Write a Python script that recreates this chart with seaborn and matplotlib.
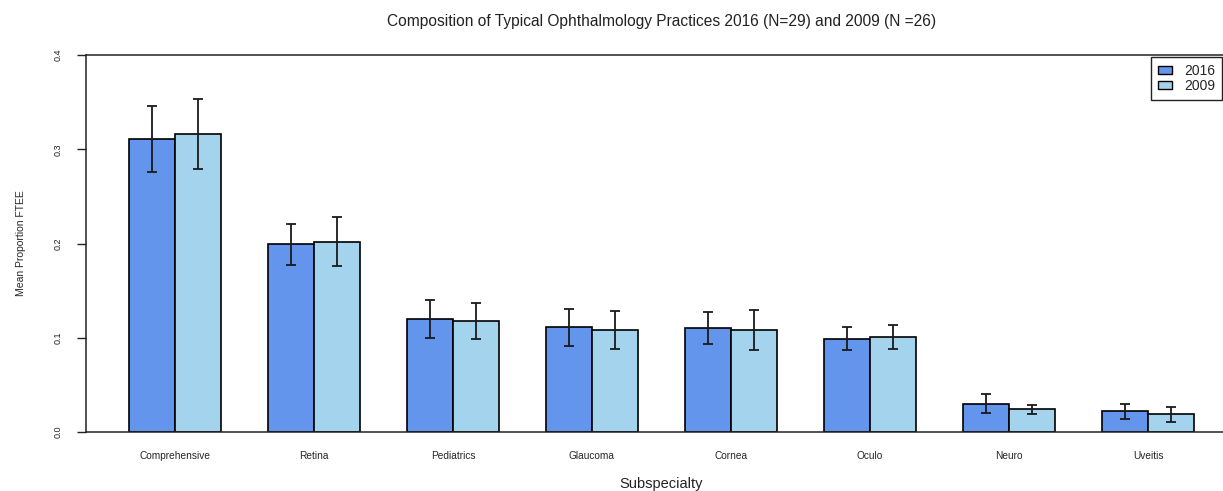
import matplotlib
matplotlib.use("Agg")
import matplotlib.pyplot as plt
import seaborn as sns
import pandas as pd

# Mean proportion of FTEE by subspecialty, with standard errors
subspecialties = ["Comprehensive", "Retina", "Pediatrics", "Glaucoma",
                  "Cornea", "Oculo", "Neuro", "Uveitis"]
years = ["2016", "2009"]
mean_2016 = [0.311, 0.199, 0.120, 0.111, 0.110, 0.099, 0.030, 0.022]
mean_2009 = [0.316, 0.202, 0.118, 0.108, 0.108, 0.101, 0.024, 0.019]
se_2016 = [0.035, 0.022, 0.020, 0.020, 0.017, 0.012, 0.010, 0.008]
se_2009 = [0.037, 0.026, 0.019, 0.020, 0.021, 0.013, 0.0045, 0.008]
y_ticks = [0.0, 0.1, 0.2, 0.3, 0.4]
y_tick_labels = ["0.0", "0.1", "0.2", "0.3", "0.4"]

colors = {"2016": "#6495ED", "2009": "#A4D3EE"}

df = pd.DataFrame({
    "Subspecialty": subspecialties * 2,
    "Year": [years[0]] * len(subspecialties) + [years[1]] * len(subspecialties),
    "Mean": mean_2016 + mean_2009,
    "SE": se_2016 + se_2009,
})

sns.set_style("white")
plt.rcParams["font.family"] = ["Liberation Sans", "DejaVu Sans"]

W, H = 1223, 491
fig = plt.figure(figsize=(W / 100, H / 100), dpi=100)
# plot region runs a little past the right edge of the canvas
ax = fig.add_axes([86 / W, (H - 432) / H, (1237 - 86) / W, (432 - 55) / H])

sns.barplot(data=df, x="Subspecialty", y="Mean", hue="Year",
            hue_order=years, order=subspecialties, palette=colors,
            errorbar=None, width=0.662, edgecolor="black", linewidth=1.2,
            saturation=1, legend=False, ax=ax)

# error bars placed at the centre of each drawn bar
for container, year in zip(ax.containers, years):
    sub = df[df["Year"] == year].set_index("Subspecialty").loc[subspecialties]
    xs = [p.get_x() + p.get_width() / 2 for p in container.patches]
    ax.errorbar(xs, sub["Mean"].values, yerr=sub["SE"].values, fmt="none",
                ecolor="#1a1a1a", elinewidth=1.3, capsize=3.4, capthick=1.3,
                zorder=5)

ax.set_xlim(-0.64, 7.64)
ax.set_ylim(0, 0.4)
ax.set_yticks(y_ticks)
ax.set_yticklabels(y_tick_labels, rotation=90, va="center", fontsize=6.5)
ax.tick_params(axis="y", direction="out", length=6.5, width=1, left=True,
               pad=10, colors="#222222")
ax.tick_params(axis="x", length=0, labelsize=7.3, pad=14)

for side in ["left", "right", "top", "bottom"]:
    ax.spines[side].set_visible(True)
    ax.spines[side].set_color("#222222")
    ax.spines[side].set_linewidth(1.1)

ax.set_xlabel("Subspecialty", fontsize=10.5, labelpad=11, color="#222222")
ax.set_ylabel("Mean Proportion FTEE", fontsize=7.5, labelpad=20)
ax.set_title("Composition of Typical Ophthalmology Practices 2016 (N=29) and 2009 (N =26)",
             fontsize=11.2, pad=21, color="#222222")

handles = [plt.Rectangle((0, 0), 1, 1, facecolor=colors[y], edgecolor="black",
                         linewidth=1) for y in years]
leg = fig.legend(handles, years, loc="upper left",
                 bbox_to_anchor=(1151 / W, 1 - 57 / H),
                 borderaxespad=0, fancybox=False, framealpha=1,
                 edgecolor="#222222", fontsize=10, handlelength=1.0,
                 handleheight=0.55, handletextpad=0.9, labelspacing=0.05,
                 borderpad=0.5)
leg.get_frame().set_linewidth(1)

fig.savefig("out.png", dpi=100)
